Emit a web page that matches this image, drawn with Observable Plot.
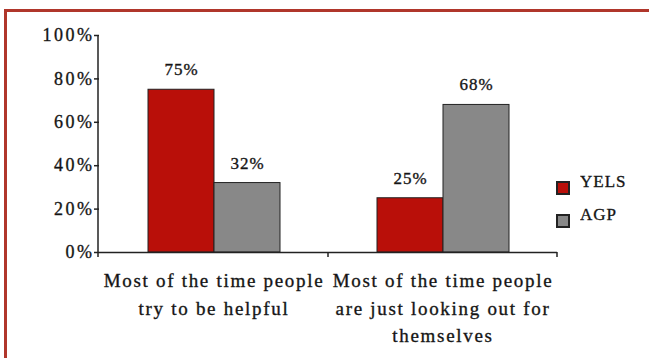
<!DOCTYPE html>
<html><head><meta charset="utf-8">
<script src="https://cdn.jsdelivr.net/npm/d3@7"></script>
<script src="https://cdn.jsdelivr.net/npm/@observablehq/plot@0.6"></script>
<style>
html,body{margin:0;padding:0;background:#fff}
body{width:649px;height:358px;overflow:hidden;position:relative;font-family:"Liberation Serif",serif}
#border{position:absolute;left:4px;top:9px;width:800px;height:600px;border-top:3px solid #b0362b;border-left:3px solid #b0362b;box-sizing:border-box}
#chart{position:absolute;left:0;top:0}
#chart text{font-family:"Liberation Serif",serif;stroke:#222;stroke-width:0.35px}
#chart g[aria-label="y-axis tick label"] text{letter-spacing:2.5px}
#chart g[aria-label="text"] text{letter-spacing:1px}
#chart g[aria-label="text"] text tspan{letter-spacing:1.7px}
#legend{position:absolute;left:557px;top:172px;color:#111}
#legend *{font-family:"Liberation Serif",serif !important;font-size:17px !important;letter-spacing:1px;-webkit-text-stroke:0.35px #222}
#legend svg{margin-right:11px !important}
#legend svg rect{stroke:#222;stroke-width:2px}
#legend div div{min-height:32px}
</style></head><body>
<div id="border"></div><div id="chart"></div><div id="legend"></div>
<script>
const categories = ["Most of the time people\ntry to be helpful", "Most of the time people\nare just looking out for\nthemselves"];
const series = ["YELS", "AGP"];
const yelsValues = [75, 25];
const agpValues = [32, 68];
const yTicks = [0, 20, 40, 60, 80, 100];
const seriesColors = ["#b90f09", "#888888"];

const data = categories.flatMap((c, i) => [
  {category: c, series: series[0], value: yelsValues[i]},
  {category: c, series: series[1], value: agpValues[i]}
]);

const chart = Plot.plot({
  width: 649, height: 358,
  marginLeft: 98, marginRight: 92, marginTop: 35, marginBottom: 106,
  style: {fontFamily: "Liberation Serif, serif", fontSize: "17px", color: "#111", background: "transparent", overflow: "visible"},
  fx: {domain: categories, padding: 0, axis: null, label: null},
  x: {domain: series, paddingInner: 0, paddingOuter: 0.72, axis: null, label: null},
  y: {domain: [0, 100], label: null, axis: null},
  color: {domain: series, range: seriesColors},
  marks: [
    Plot.axisY({ticks: yTicks, tickFormat: d => d + "%", tickSize: 5, tickPadding: 0, label: null, stroke: "#222", strokeWidth: 1.5, fill: "#111", fontSize: 18}),
    Plot.barY(data, {fx: "category", x: "series", y: "value", fill: "series", stroke: "#222", strokeWidth: 1}),
    Plot.text(data, {fx: "category", x: "series", y: "value", text: d => d.value + "%", dy: -20, fill: "#111", fontSize: 17}),
    Plot.ruleY([0], {stroke: "#222", strokeWidth: 1.5}),
    Plot.text(categories, {fx: d => d, text: d => d, frameAnchor: "bottom", lineAnchor: "top", dy: 15, lineHeight: 1.45, fontSize: 19, fill: "#111"})
  ]
});
document.getElementById("chart").append(chart);

// axis line and category boundary ticks, drawn from the chart's own scales
const fx = chart.scale("fx"), y = chart.scale("y");
const svg = d3.select(chart);
const left = fx.range[0];
const y0 = y.apply(0), y100 = y.apply(100);
svg.append("line").attr("x1", left).attr("x2", left).attr("y1", y100).attr("y2", y0 + 5)
  .attr("stroke", "#222").attr("stroke-width", 1.5);
fx.domain.forEach(c => {
  const xe = fx.apply(c) + fx.bandwidth;
  svg.append("line").attr("x1", xe).attr("x2", xe).attr("y1", y0).attr("y2", y0 + 5)
    .attr("stroke", "#222").attr("stroke-width", 1.5);
});

const legend = chart.legend("color", {legend: "swatches", columns: 1, swatchSize: 12});
document.getElementById("legend").append(legend);
</script>
</body></html>
